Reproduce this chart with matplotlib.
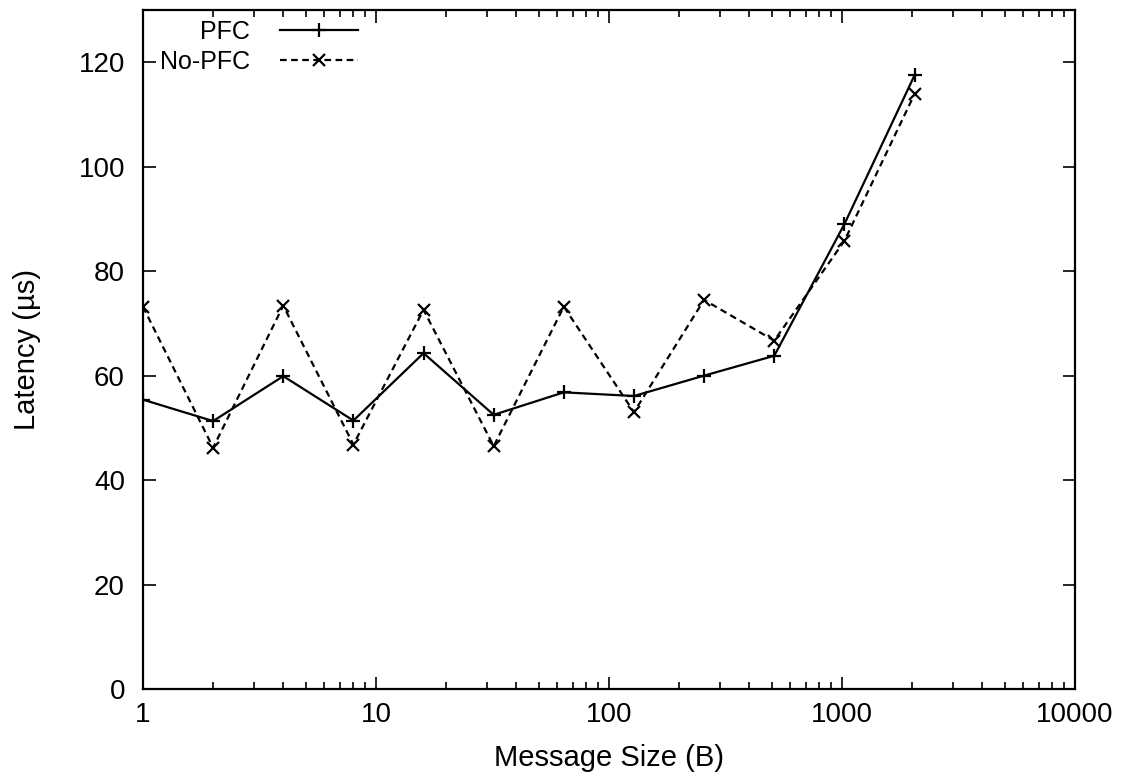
import matplotlib.pyplot as plt
from matplotlib.ticker import LogLocator, FixedLocator, NullFormatter

plt.rcParams['font.family'] = ['Liberation Sans', 'DejaVu Sans']

msg_size = [1, 2, 4, 8, 16, 32, 64, 128, 256, 512, 1024, 2048]
pfc = [55.4, 51.3, 59.9, 51.4, 64.3, 52.5, 56.8, 56.1, 60.0, 63.8, 89.0, 117.5]
no_pfc = [73.2, 46.2, 73.4, 46.8, 72.6, 46.5, 73.2, 53.0, 74.5, 66.7, 85.8, 113.9]
x_ticks = [1, 10, 100, 1000, 10000]
x_tick_labels = ['1', '10', '100', '1000', '10000']
y_ticks = [0, 20, 40, 60, 80, 100, 120]

fig = plt.figure(figsize=(11.33, 7.82), dpi=100)
ax = fig.add_axes([0.1262, 0.1189, 0.8226, 0.8683])

ax.plot(msg_size, pfc, color='black', linewidth=1.6, marker='+',
        markersize=10, markeredgewidth=1.6, label='PFC')
ax.plot(msg_size, no_pfc, color='black', linewidth=1.6, linestyle=(0, (3, 2)),
        marker='x', markersize=8, markeredgewidth=1.6, label='No-PFC')

ax.set_xscale('log')
ax.set_xlim(1, 10000)
ax.set_ylim(0, 130)
ax.xaxis.set_major_locator(FixedLocator(x_ticks))
ax.set_xticklabels(x_tick_labels)
ax.xaxis.set_minor_locator(LogLocator(base=10, subs=range(2, 10)))
ax.xaxis.set_minor_formatter(NullFormatter())
ax.set_yticks(y_ticks)

ax.tick_params(which='both', direction='in', top=True, right=True,
               labelsize=20, width=1.2)
ax.tick_params(axis='x', pad=9)
ax.tick_params(axis='y', pad=13)
ax.tick_params(which='major', length=9)
ax.tick_params(which='minor', length=5)
for s in ax.spines.values():
    s.set_linewidth(1.6)

ax.set_xlabel('Message Size (B)', fontsize=21, labelpad=12)
ax.set_ylabel('Latency (µs)', fontsize=21, labelpad=27)

ax.legend(loc='upper left', frameon=False, markerfirst=False, fontsize=18,
          handlelength=3.1, handletextpad=1.2, borderaxespad=0.0,
          labelspacing=0.24, bbox_to_anchor=(0.0075, 1.0))

fig.savefig('out.png', dpi=100)
